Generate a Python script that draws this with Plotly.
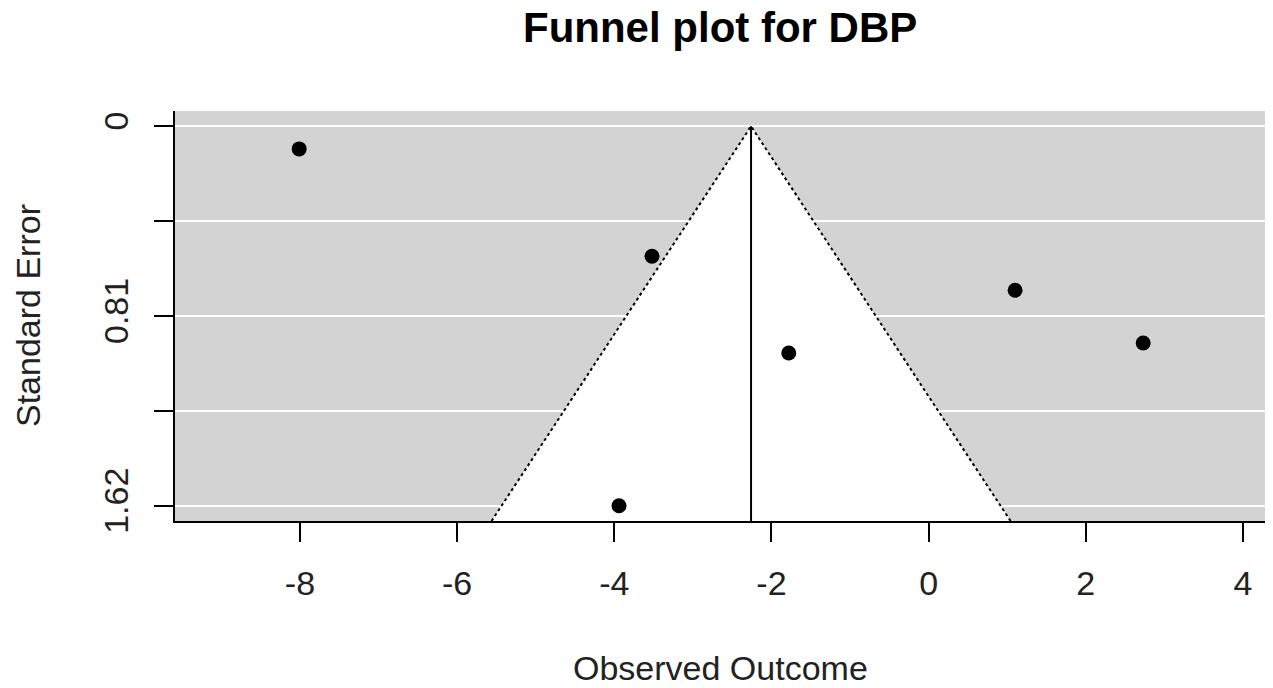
import plotly.graph_objects as go

# Study effects (observed outcome) and their standard errors
yi = [-8.01, -3.52, 1.10, 2.73, -1.78, -3.94]
sei = [0.097, 0.555, 0.70, 0.925, 0.968, 1.62]

# Pooled estimate at the funnel apex
estimate = -2.26
z = 1.96

# Standard-error axis ticks (labels only on every other tick)
se_max = max(sei)
y_tickvals = [0, se_max / 4, se_max / 2, 3 * se_max / 4, se_max]
y_ticktext = ["0", "", "0.81", "", "1.62"]

x_tickvals = [-8, -6, -4, -2, 0, 2, 4]
x_ticktext = ["-8", "-6", "-4", "-2", "0", "2", "4"]

pad = 0.04 * se_max
y_bottom = se_max + pad
y_range = [y_bottom, -pad]
x_range = [-9.59, 4.28]

font_main = "Liberation Sans, Arial, sans-serif"

fig = go.Figure()

# White pseudo-confidence region
fig.add_trace(go.Scatter(
    x=[estimate - z * y_bottom, estimate, estimate + z * y_bottom, estimate - z * y_bottom],
    y=[y_bottom, 0, y_bottom, y_bottom],
    mode="lines", fill="toself", fillcolor="white",
    line=dict(width=0), hoverinfo="skip", showlegend=False,
))

# Dotted funnel limits
fig.add_trace(go.Scatter(
    x=[estimate - z * y_bottom, estimate, estimate + z * y_bottom],
    y=[y_bottom, 0, y_bottom],
    mode="lines", line=dict(color="black", width=2, dash="dot"),
    hoverinfo="skip", showlegend=False,
))

# Vertical line at the pooled estimate
fig.add_trace(go.Scatter(
    x=[estimate, estimate], y=[0, y_bottom],
    mode="lines", line=dict(color="black", width=2),
    hoverinfo="skip", showlegend=False,
))

# Individual studies
fig.add_trace(go.Scatter(
    x=yi, y=sei, mode="markers",
    marker=dict(color="black", size=15, symbol="circle"),
    showlegend=False,
))

fig.update_layout(
    width=1273, height=688,
    margin=dict(l=175, r=8, t=111, b=167),
    paper_bgcolor="white",
    plot_bgcolor="#d3d3d3",
    font=dict(family=font_main, color="black"),
    xaxis=dict(
        range=x_range, tickvals=x_tickvals, ticktext=x_ticktext,
        showgrid=False, zeroline=False,
        showline=True, linecolor="black", linewidth=2,
        ticks="outside", ticklen=19, tickwidth=2, tickcolor="black",
        tickfont=dict(size=34, family=font_main, color="#222"),
        ticklabelstandoff=12,
    ),
    yaxis=dict(
        range=y_range, tickvals=y_tickvals, ticktext=y_ticktext,
        showgrid=True, gridcolor="white", gridwidth=2,
        zeroline=False,
        showline=True, linecolor="black", linewidth=2,
        ticks="outside", ticklen=19, tickwidth=2, tickcolor="black",
        tickangle=-90,
        tickfont=dict(size=34, family=font_main, color="#222"),
        ticklabelstandoff=12,
    ),
    annotations=[
        dict(text="<b>Funnel plot for DBP</b>", xref="paper", yref="paper",
             x=0.5, y=1, yanchor="middle", yshift=84, showarrow=False,
             font=dict(size=42, family=font_main, color="black")),
        dict(text="Observed Outcome", xref="paper", yref="paper",
             x=0.5, y=0, yanchor="middle", yshift=-147, showarrow=False,
             font=dict(size=34, family=font_main, color="#222")),
        dict(text="Standard Error", xref="paper", yref="paper",
             x=0, y=0.5, xanchor="center", xshift=-147, textangle=-90,
             showarrow=False,
             font=dict(size=34, family=font_main, color="#222")),
    ],
)

fig.write_html("out.html")
